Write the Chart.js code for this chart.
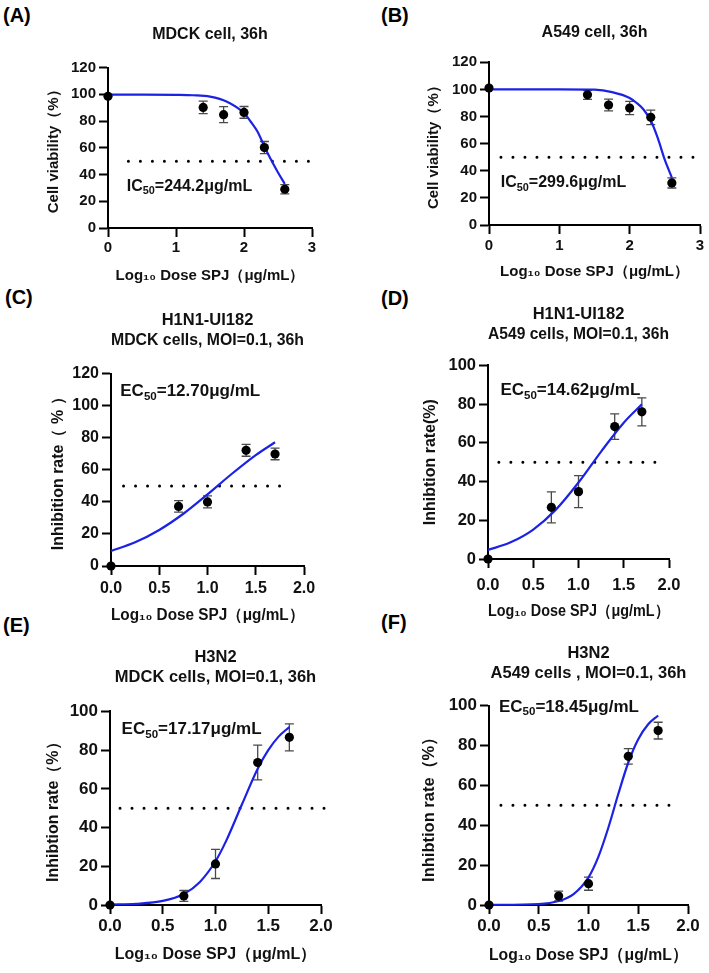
<!DOCTYPE html>
<html><head><meta charset="utf-8">
<script src="https://cdn.jsdelivr.net/npm/chart.js@4.4.1/dist/chart.umd.min.js"></script>
<style>
html,body{margin:0;padding:0;background:#fff;width:709px;height:973px;overflow:hidden;position:relative;}
canvas.panel{position:absolute;}
.lbl{position:absolute;font:bold 20px "Liberation Sans",Arial,sans-serif;color:#000;line-height:20px;white-space:nowrap;}
</style></head><body>
<div class="lbl" style="left:3px;top:5px">(A)</div>
<div class="lbl" style="left:381px;top:5px">(B)</div>
<div class="lbl" style="left:5px;top:287px">(C)</div>
<div class="lbl" style="left:381px;top:288px">(D)</div>
<div class="lbl" style="left:3px;top:615px">(E)</div>
<div class="lbl" style="left:381px;top:612px">(F)</div>
<canvas id="cA" class="panel"></canvas>
<canvas id="cB" class="panel"></canvas>
<canvas id="cC" class="panel"></canvas>
<canvas id="cD" class="panel"></canvas>
<canvas id="cE" class="panel"></canvas>
<canvas id="cF" class="panel"></canvas>
<script>
// ---------------- DATA ----------------
// (A) MDCK cell viability
const A_logDose = [0, 1.4, 1.7, 2.0, 2.3, 2.6];
const A_mean    = [98.5, 90.2, 84.8, 86.5, 60.2, 29.0];
const A_err     = [0, 4.7, 6.0, 4.4, 4.5, 3.4];
const A_fitX    = [0, 0.5, 1.0, 1.25, 1.5, 1.75, 2.0, 2.1, 2.2, 2.3, 2.4, 2.5, 2.6];
const A_fitY    = [99.8, 99.8, 99.6, 99.3, 98.3, 94.5, 86.0, 79.5, 72.0, 61.0, 50.8, 41.5, 33.0];
const A_refX    = [0.3, 2.95];

// (B) A549 cell viability
const B_logDose = [0, 1.4, 1.7, 2.0, 2.3, 2.6];
const B_mean    = [101.0, 96.0, 88.5, 86.3, 79.4, 31.0];
const B_err     = [0, 3.4, 4.3, 4.9, 5.3, 3.7];
const B_fitX    = [0, 0.5, 1.0, 1.5, 1.75, 2.0, 2.1, 2.2, 2.3, 2.4, 2.5, 2.6];
const B_fitY    = [100, 100, 100, 99.8, 98.0, 93.7, 90.0, 85.0, 77.0, 64.0, 48.0, 35.0];
const B_refX    = [0.17, 2.92];

// (C) H1N1-UI182, MDCK
const C_logDose = [0, 0.7, 1.0, 1.4, 1.7];
const C_mean    = [0, 37.2, 40.0, 72.2, 69.9];
const C_err     = [0, 3.6, 3.7, 3.7, 3.6];
const C_fitX    = [0, 0.25, 0.5, 0.75, 1.0, 1.25, 1.5, 1.7];
const C_fitY    = [9.4, 14.8, 22.5, 32.6, 44.7, 57.4, 69.2, 77.2];
const C_refX    = [0.13, 1.85];

// (D) H1N1-UI182, A549
const D_logDose = [0, 0.7, 1.0, 1.4, 1.7];
const D_mean    = [0, 26.7, 34.8, 68.4, 76.0];
const D_err     = [0, 8.0, 8.3, 6.6, 7.2];
const D_fitX    = [0, 0.25, 0.5, 0.75, 1.0, 1.25, 1.5, 1.7];
const D_fitY    = [4.7, 8.6, 15.2, 25.5, 39.5, 55.5, 70.4, 79.9];
const D_refX    = [0.12, 1.94];

// (E) H3N2, MDCK
const E_logDose = [0, 0.7, 1.0, 1.4, 1.7];
const E_mean    = [0, 4.7, 21.2, 73.6, 86.6];
const E_err     = [0, 2.8, 7.5, 9.0, 7.0];
const E_fitX    = [0, 0.25, 0.5, 0.7, 0.85, 1.0, 1.1, 1.25, 1.4, 1.5, 1.6, 1.7];
const E_fitY    = [0.2, 0.6, 2.1, 5.7, 11.8, 22.6, 33.0, 51.9, 70.4, 80.0, 87.1, 91.9];
const E_refX    = [0.095, 2.07];

// (F) H3N2, A549
const F_logDose = [0, 0.7, 1.0, 1.4, 1.7];
const F_mean    = [0, 4.5, 10.7, 74.6, 87.5];
const F_err     = [0, 2.5, 3.3, 3.9, 4.2];
const F_fitX    = [0, 0.5, 0.7, 0.85, 1.0, 1.1, 1.2, 1.3, 1.4, 1.5, 1.6, 1.7];
const F_fitY    = [0.1, 0.5, 2.0, 5.5, 13.9, 24.3, 38.9, 55.8, 71.5, 83.2, 90.7, 95.1];
const F_refX    = [0.12, 1.89];

const refLevel = 50;

// text
const titles = {
  A: 'MDCK cell, 36h',
  B: 'A549 cell, 36h',
  C: ['H1N1-UI182', 'MDCK cells, MOI=0.1, 36h'],
  D: ['H1N1-UI182', 'A549 cells, MOI=0.1, 36h'],
  E: ['H3N2', 'MDCK cells, MOI=0.1, 36h'],
  F: ['H3N2', 'A549 cells , MOI=0.1, 36h']
};
const yTitles = {
  A: 'Cell viability（%）', B: 'Cell viability（%）',
  C: 'Inhibition rate（ % ）', D: 'Inhibtion rate(%)',
  E: 'Inhibtion rate（%）', F: 'Inhibtion rate（%）'
};
const xTitle = 'Log₁₀ Dose SPJ（μg/mL）';
const potencyPrefix = { A: 'IC', B: 'IC', C: 'EC', D: 'EC', E: 'EC', F: 'EC' };
const potencyValue  = { A: '244.2', B: '299.6', C: '12.70', D: '14.62', E: '17.17', F: '18.45' };

// ---------------- LAYOUT (pixel geometry, not data) ----------------
const GEOM = {
  A: {L:108, T:68, R:312, B:228, xMax:3, xStep:1, dec:0, yMax:120, tick:15, axT:15, tt:16, tGap:33, dX:48, dT:20, dY:54, lab:16, labAt:[0.275,31]},
  B: {L:489, T:62.7, R:700, B:225.3, xMax:3, xStep:1, dec:0, yMax:120, tick:15, axT:15, tt:16, tGap:29.7, dX:46.4, dT:20.7, dY:55, lab:16, labAt:[0.167,31]},
  C: {L:110.7, T:373.3, R:304, B:565.7, xMax:2, xStep:0.5, dec:1, yMax:120, tick:16, axT:16, tt:16.5, tGap:33, dX:49.3, dT:22.3, dY:52.4, lab:17, labAt:[0.096,109]},
  D: {L:488.3, T:365.7, R:669, B:559, xMax:2, xStep:0.5, dec:1, yMax:100, tick:16.5, axT:16, tt:16.5, tGap:30.7, dX:52.7, dT:26.7, dY:57.8, lab:17, labAt:[0.137,87]},
  E: {L:110, T:711.7, R:321, B:905, xMax:2, xStep:0.5, dec:1, yMax:100, tick:17, axT:16, tt:16.5, tGap:33.7, dX:50, dT:21.7, dY:56, lab:17, labAt:[0.11,90.5]},
  F: {L:489, T:705.3, R:688.3, B:905, xMax:2, xStep:0.5, dec:1, yMax:100, tick:17, axT:16.5, tt:16.5, tGap:32, dX:50, dT:21.7, dY:59.5, lab:17, labAt:[0.1,99.3]}
};
const DATA = {
  A:{x:A_logDose,y:A_mean,e:A_err,fx:A_fitX,fy:A_fitY,rx:A_refX},
  B:{x:B_logDose,y:B_mean,e:B_err,fx:B_fitX,fy:B_fitY,rx:B_refX},
  C:{x:C_logDose,y:C_mean,e:C_err,fx:C_fitX,fy:C_fitY,rx:C_refX},
  D:{x:D_logDose,y:D_mean,e:D_err,fx:D_fitX,fy:D_fitY,rx:D_refX},
  E:{x:E_logDose,y:E_mean,e:E_err,fx:E_fitX,fy:E_fitY,rx:E_refX},
  F:{x:F_logDose,y:F_mean,e:F_err,fx:F_fitX,fy:F_fitY,rx:F_refX}
};

const FAMILY = '"Liberation Sans", Arial, Helvetica, sans-serif';
Chart.defaults.font.family = FAMILY;
Chart.defaults.color = '#000';

const Wy = 80, Hx = 62, padR = 25;

function buildPanel(key) {
  const g = GEOM[key], d = DATA[key];
  const title = titles[key];
  const nLines = Array.isArray(title) ? title.length : 1;
  const tLH = g.tt * 1.2;
  const tPB = g.tGap - tLH / 2;
  const cLeft = g.L - Wy;
  const cTop = g.T - nLines * tLH - tPB;
  const cW = Math.round(g.R + padR - cLeft);
  const cH = Math.round(g.B + Hx - cTop);
  const cv = document.getElementById('c' + key);
  cv.width = cW; cv.height = cH;
  cv.style.left = cLeft + 'px'; cv.style.top = cTop + 'px';
  cv.style.width = cW + 'px'; cv.style.height = cH + 'px';

  const axLH = g.axT * 1.2, tkLH = g.tick * 1.2, tl = 9;

  const errPlugin = {
    id: 'errbars' + key,
    beforeDatasetsDraw(chart) {
      const xs = chart.scales.x, ys = chart.scales.y, ctx = chart.ctx;
      ctx.save();
      ctx.strokeStyle = '#4a4a4a';
      ctx.lineWidth = 1.3;
      for (let i = 0; i < d.x.length; i++) {
        if (!d.e[i]) continue;
        const px = xs.getPixelForValue(d.x[i]);
        const p1 = ys.getPixelForValue(d.y[i] + d.e[i]);
        const p2 = ys.getPixelForValue(d.y[i] - d.e[i]);
        ctx.beginPath();
        ctx.moveTo(px, p1); ctx.lineTo(px, p2);
        ctx.moveTo(px - 4.5, p1); ctx.lineTo(px + 4.5, p1);
        ctx.moveTo(px - 4.5, p2); ctx.lineTo(px + 4.5, p2);
        ctx.stroke();
      }
      ctx.restore();
    }
  };
  const labelPlugin = {
    id: 'potency' + key,
    afterDraw(chart) {
      const xs = chart.scales.x, ys = chart.scales.y, ctx = chart.ctx;
      let px = xs.getPixelForValue(g.labAt[0]);
      const py = ys.getPixelForValue(g.labAt[1]);
      ctx.save();
      ctx.fillStyle = '#111';
      ctx.textBaseline = 'middle';
      ctx.textAlign = 'left';
      ctx.font = 'bold ' + g.lab + 'px ' + FAMILY;
      ctx.fillText(potencyPrefix[key], px, py);
      px += ctx.measureText(potencyPrefix[key]).width;
      ctx.font = 'bold ' + (g.lab * 0.68) + 'px ' + FAMILY;
      ctx.fillText('50', px, py + g.lab * 0.3);
      px += ctx.measureText('50').width;
      ctx.font = 'bold ' + g.lab + 'px ' + FAMILY;
      ctx.fillText('=' + potencyValue[key] + 'μg/mL', px, py);
      ctx.restore();
    }
  };

  new Chart(cv, {
    data: {
      datasets: [
        { type: 'scatter', data: d.x.map((v, i) => ({x: v, y: d.y[i]})),
          pointRadius: 4.6, pointBackgroundColor: '#000', pointBorderWidth: 0, clip: false, order: 0 },
        { type: 'line', data: d.fx.map((v, i) => ({x: v, y: d.fy[i]})),
          borderColor: '#1c22e4', borderWidth: 2.2, pointRadius: 0, fill: false,
          cubicInterpolationMode: 'monotone', clip: false, order: 1 },
        { type: 'line', data: d.rx.map(v => ({x: v, y: refLevel})),
          borderColor: '#000', borderWidth: 3, borderDash: [0, 12], borderCapStyle: 'round',
          pointRadius: 0, fill: false, clip: false, order: 2 }
      ]
    },
    options: {
      responsive: false, animation: false, events: [],
      layout: { padding: { left: 0, right: padR, top: 0, bottom: 0 } },
      plugins: {
        legend: { display: false }, tooltip: { enabled: false },
        title: { display: true, text: title, fullSize: false, color: '#111',
                 font: { size: g.tt, weight: 'bold', lineHeight: 1.2 },
                 padding: { top: 0, bottom: tPB } }
      },
      scales: {
        x: {
          type: 'linear', min: 0, max: g.xMax,
          afterFit(s) { s.height = Hx; },
          border: { display: true, color: '#000', width: 2 },
          grid: { display: true, drawOnChartArea: false, drawTicks: true, tickLength: tl,
                  tickWidth: 2, tickColor: '#000', color: '#000' },
          ticks: { stepSize: g.xStep, color: '#111', padding: g.dT - tl - tkLH / 2,
                   font: { size: g.tick, weight: 'bold', lineHeight: 1.2 }, maxRotation: 0,
                   callback: v => Number(v).toFixed(g.dec) },
          title: { display: true, text: xTitle, color: '#111',
                   font: { size: g.axT, weight: 'bold', lineHeight: 1.2 },
                   padding: { top: 0, bottom: Hx - g.dX - axLH / 2 } }
        },
        y: {
          type: 'linear', min: 0, max: g.yMax,
          afterFit(s) { s.width = Wy; },
          border: { display: true, color: '#000', width: 2 },
          grid: { display: true, drawOnChartArea: false, drawTicks: true, tickLength: tl,
                  tickWidth: 2, tickColor: '#000', color: '#000' },
          ticks: { stepSize: 20, color: '#111', padding: 3,
                   font: { size: g.tick, weight: 'bold', lineHeight: 1.2 } },
          title: { display: true, text: yTitles[key], color: '#111',
                   font: { size: g.axT, weight: 'bold', lineHeight: 1.2 },
                   padding: { top: Wy - g.dY - axLH / 2, bottom: 0 } }
        }
      }
    },
    plugins: [errPlugin, labelPlugin]
  });
}
['A','B','C','D','E','F'].forEach(buildPanel);
</script>
</body></html>
